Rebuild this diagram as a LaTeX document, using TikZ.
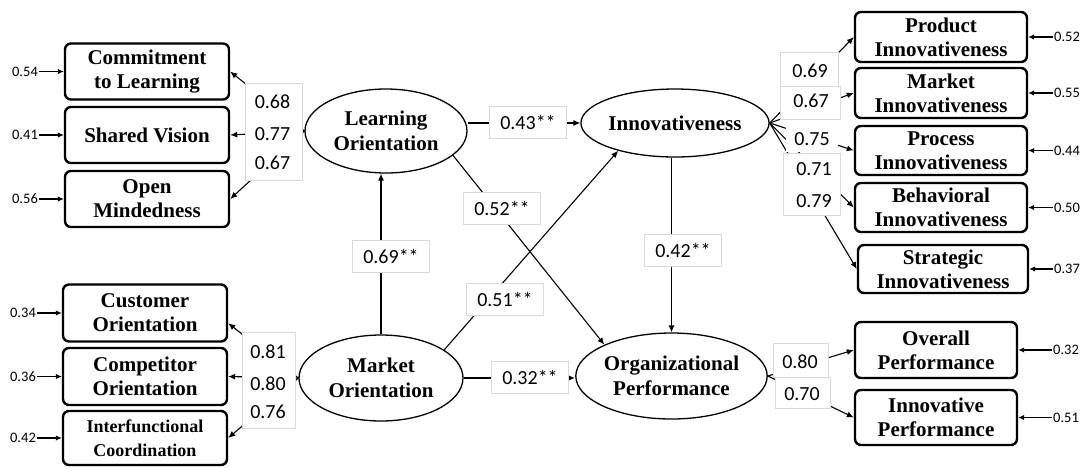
\documentclass[tikz,border=0pt]{standalone}
\usepackage{fontspec}
\setmainfont{Liberation Serif}
\newfontfamily\carl{Carlito}
\usetikzlibrary{shapes.geometric,arrows.meta}

\begin{document}
\begin{tikzpicture}[x=1pt,y=-1pt,
  ind/.style={draw, line width=2.4pt, rounded corners=6pt, minimum width=164pt,
    minimum height=56pt, inner sep=0pt, align=center,
    font=\bfseries\fontsize{21}{24}\selectfont},
  lat/.style={draw, ellipse, line width=1.3pt, inner sep=0pt, align=center,
    font=\bfseries\fontsize{21}{25}\selectfont},
  conn/.style={line width=1.1pt, -{Latex[length=7pt,width=6pt]}},
  coef/.style={fill=white, draw=black!15, line width=0.6pt, inner sep=0pt,
    minimum width=77pt, minimum height=32pt, font=\carl\fontsize{20}{24}\selectfont},
  lbox/.style={fill=white, draw=black!15, line width=0.6pt, inner sep=0pt},
  ld/.style={inner sep=0pt, font=\carl\fontsize{20}{24}\selectfont},
  err/.style={inner sep=1pt, font=\carl\fontsize{14.5}{17}\selectfont},
  earr/.style={line width=1.1pt, -{Latex[length=6pt,width=5.5pt]}}
]
\useasboundingbox (0,0) rectangle (1089,467);

% latent constructs
\node[lat, minimum width=162pt, minimum height=84pt] (lo) at (386,131) {Learning\\Orientation};
\node[lat, minimum width=164pt, minimum height=86pt] (mo) at (381,378) {Market\\Orientation};
\node[lat, minimum width=160pt, minimum height=68pt] (inv) at (675,123) {Innovativeness};
\node[lat, minimum width=158pt, minimum height=86pt] (op) at (671.5,376) {Organizational\\Performance};

% indicators of learning orientation
\node[ind] (ci) at (147,71.5) {Commitment\\to Learning};
\node[ind] (sv) at (147,135) {Shared Vision};
\node[ind] (om) at (147,199) {Open\\Mindedness};
% indicators of market orientation
\node[ind, minimum height=57pt] (cu) at (145,313) {Customer\\Orientation};
\node[ind, minimum height=57pt] (cp) at (145,376.5) {Competitor\\Orientation};
\node[ind, minimum height=54pt, font=\bfseries\fontsize{18}{24}\selectfont] (ic) at (145,438) {Interfunctional\\Coordination};
% indicators of innovativeness
\node[ind, minimum width=172pt, minimum height=50pt] (pi) at (941,37) {Product\\Innovativeness};
\node[ind, minimum width=172pt, minimum height=50pt] (mi) at (941,93) {Market\\Innovativeness};
\node[ind, minimum width=172pt, minimum height=49pt] (pr) at (941,150.5) {Process\\Innovativeness};
\node[ind, minimum width=172pt, minimum height=49pt] (bi) at (941,207.5) {Behavioral\\Innovativeness};
\node[ind, minimum width=170pt, minimum height=48pt] (si) at (943,269) {Strategic\\Innovativeness};
% indicators of organizational performance
\node[ind, minimum width=162pt, minimum height=56pt] (ovp) at (936,350) {Overall\\Performance};
\node[ind, minimum width=162pt, minimum height=55pt] (ivp) at (936,417.5) {Innovative\\Performance};

% error terms
\node[err] (e1) at (25,71.5) {0.54};
\node[err] (e2) at (25,135) {0.41};
\node[err] (e3) at (25,199) {0.56};
\node[err] (e4) at (23,313) {0.34};
\node[err] (e5) at (23,376.5) {0.36};
\node[err] (e6) at (23,438) {0.42};
\node[err] (e7) at (1067,37) {0.52};
\node[err] (e8) at (1067,93) {0.55};
\node[err] (e9) at (1067,150.5) {0.44};
\node[err] (e10) at (1067,207.5) {0.50};
\node[err] (e11) at (1067,269) {0.37};
\node[err] (e12) at (1066,350) {0.32};
\node[err] (e13) at (1066,417.5) {0.51};
\foreach \e/\b in {e1/ci,e2/sv,e3/om,e4/cu,e5/cp,e6/ic,e7/pi,e8/mi,e9/pr,e10/bi,e11/si,e12/ovp,e13/ivp}
  \draw[earr] (\e) -- (\b);

% measurement paths
\draw[conn] (lo.west) -- (ci.east);
\draw[conn] (lo.west) -- (sv.east);
\draw[conn] (lo.west) -- (om.east);
\draw[conn] (mo.west) -- (cu.-7);
\draw[conn] (mo.west) -- (cp.east);
\draw[conn] (mo.west) -- (ic.east);
\draw[conn] (inv.east) -- (pi.west);
\draw[conn] (inv.east) -- (mi.west);
\draw[conn] (inv.east) -- (pr.west);
\draw[conn] (inv.east) -- (bi.west);
\draw[conn] (inv.east) -- (si.west);
\draw[conn] (op.east) -- (ovp.west);
\draw[conn] (op.east) -- (ivp.west);

% structural paths
\draw[conn] (lo.east |- inv.west) -- (inv.west);
\draw[conn] (mo.north) -- (mo.north |- lo.south);
\draw[conn] (lo.-20) -- (op.155);
\draw[conn] (mo.24) -- (inv.206);
\draw[conn, line width=1.6pt] (mo.east) -- (mo.east -| op.west);
\draw[conn] (inv.south -| op.north) -- (op.north);

% structural coefficients
\node[coef] (c1) at (528,122) {0.43**};
\node[coef] (c2) at (391,256) {0.69**};
\node[coef] (c3) at (502,208) {0.52**};
\node[coef] (c4) at (505,299) {0.51**};
\node[coef] (c5) at (530,377) {0.32**};
\node[coef] (c6) at (683,250) {0.42**};

% loadings, learning orientation
\node[lbox, minimum width=57pt, minimum height=97pt] (lb1) at (273.5,131.5) {};
\node[ld] (l1) at (272.5,102) {0.68};
\node[ld] (l2) at (272.5,134) {0.77};
\node[ld] (l3) at (272.5,163) {0.67};
% loadings, market orientation
\node[lbox, minimum width=53pt, minimum height=96pt] (lb2) at (268.5,380) {};
\node[ld] (l4) at (268,352) {0.81};
\node[ld] (l5) at (268,384) {0.80};
\node[ld] (l6) at (268,412) {0.76};
% loadings, innovativeness
\node[lbox, minimum width=58pt, minimum height=35pt] (lb3) at (809,69.5) {};
\node[ld] (l7) at (810,71) {0.69};
\node[lbox, minimum width=60pt, minimum height=33pt] (lb4) at (810,102.5) {};
\node[ld] (l8) at (811,101) {0.67};
\node[lbox, draw=none, minimum width=52pt, minimum height=26pt] (lb5) at (812,139) {};
\node[ld] (l9) at (812,139) {0.75};
\node[lbox, minimum width=57pt, minimum height=62pt] (lb6) at (811.5,184) {};
\node[ld] (l10) at (814,169) {0.71};
\node[ld] (l11) at (814,201) {0.79};
% loadings, organizational performance
\node[lbox, minimum width=55pt, minimum height=34pt] (lb7) at (800.5,360) {};
\node[ld] (l12) at (800,362) {0.80};
\node[lbox, minimum width=55pt, minimum height=31pt] (lb8) at (802.5,392.5) {};
\node[ld] (l13) at (802,394) {0.70};
\end{tikzpicture}
\end{document}
